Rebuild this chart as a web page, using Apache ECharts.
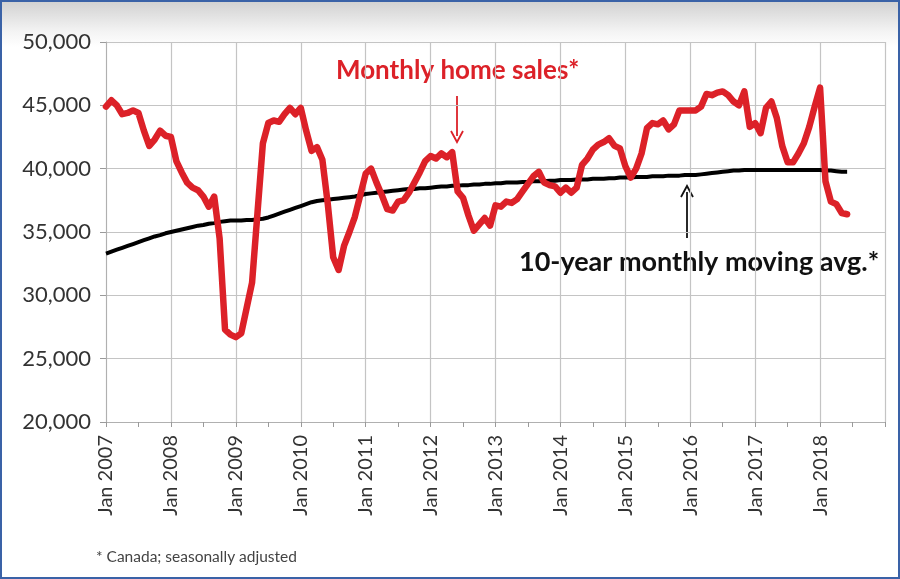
<!DOCTYPE html>
<html>
<head>
<meta charset="utf-8">
<script src="https://cdn.jsdelivr.net/npm/echarts@6/dist/echarts.min.js"></script>
<style>
html,body{margin:0;padding:0;}
#wrap{position:absolute;left:0;top:0;width:896px;height:575px;border:2px solid #3a62a7;
background:linear-gradient(to bottom,#d2d2d2 0px,#f4f4f4 30px,#ffffff 45px,#ffffff 100%);}
#chart{width:896px;height:575px;}
</style>
</head>
<body>
<div id="wrap"><div id="chart"></div></div>
<script>
// Tick labels
const years = [2007,2008,2009,2010,2011,2012,2013,2014,2015,2016,2017,2018,2019];
const monthNames = ['Jan','Feb','Mar','Apr','May','Jun','Jul','Aug','Sep','Oct','Nov','Dec'];
const yTicks = [20000,25000,30000,35000,40000,45000,50000];

// Monthly home sales (Jan 2007 - Jun 2018)
const homeSales = [
  44900,45400,45000,44300,44400,44600,44400,43000,41800,42300,43000,42600,
  42500,40600,39700,38900,38500,38300,37800,37000,37800,34500,27300,26900,
  26700,27000,29000,31000,36500,42000,43600,43800,43700,44300,44800,44300,
  44800,43000,41400,41700,40700,37200,33000,32000,33900,35000,36200,37900,
  39600,40000,38900,37900,36800,36700,37400,37500,38100,38900,39700,40600,
  41000,40800,41200,40900,41300,38200,37700,36300,35100,35600,36100,35500,
  37100,37000,37400,37300,37600,38200,38800,39400,39750,38900,38700,38600,
  38100,38500,38100,38500,40300,40800,41500,41900,42100,42400,41800,41600,
  40200,39300,40000,41200,43200,43600,43500,43800,43100,43500,44600,44600,
  44600,44600,44900,45900,45800,46000,46100,45800,45300,45000,46100,43300,
  43600,42800,44800,45300,44000,41800,40500,40500,41200,42000,43300,44900,
  46400,39000,37400,37200,36500,36400
];

// 10-year monthly moving average (Jan 2007 - Jun 2018)
const movingAvg = [
  33300,33450,33600,33750,33900,34050,34200,34350,34500,34650,34750,34900,
  35000,35100,35200,35300,35400,35500,35550,35650,35700,35800,35850,35900,
  35900,35900,35950,35950,36000,36050,36150,36300,36450,36600,36750,36900,
  37050,37200,37350,37450,37500,37550,37600,37650,37700,37750,37800,37900,
  38000,38050,38100,38150,38200,38250,38300,38350,38400,38400,38450,38450,
  38500,38550,38600,38600,38650,38650,38700,38700,38750,38750,38800,38800,
  38850,38850,38900,38900,38900,38950,38950,39000,39000,39000,39050,39050,
  39100,39100,39100,39150,39150,39150,39200,39200,39200,39250,39250,39300,
  39300,39300,39350,39350,39350,39400,39400,39400,39450,39450,39450,39500,
  39500,39500,39550,39600,39650,39700,39750,39800,39850,39850,39900,39900,
  39900,39900,39900,39900,39900,39900,39900,39900,39900,39900,39900,39900,
  39900,39850,39850,39800,39750,39750
];

const categories = [];
years.forEach(y => monthNames.forEach(m => categories.push(m + ' ' + y)));
categories.length = 145; // through Jan 2019 (right edge)

const chart = echarts.init(document.getElementById('chart'), null, {renderer:'canvas'});
const gridColor = '#c4c4c4';
const FONT = 'Lato, "Open Sans", sans-serif';

chart.setOption({
  animation:false,
  backgroundColor:'transparent',
  grid:{left:104, right:13, top:40, bottom:155, containLabel:false},
  xAxis:{
    type:'category',
    data:categories,
    boundaryGap:false,
    axisLine:{show:true, lineStyle:{color:'#b0b0b0', width:1}},
    axisTick:{show:true, length:5, interval:(i)=> i%6===0, lineStyle:{color:'#9a9a9a'}},
    axisLabel:{
      interval:(i)=> i%12===0 && i<144,
      rotate:90, color:'#333', fontSize:20, fontFamily:FONT, margin:13
    },
    splitLine:{show:true, interval:(i)=> i%12===0, lineStyle:{color:gridColor, width:1.2}}
  },
  yAxis:{
    type:'value', min:yTicks[0], max:yTicks[yTicks.length-1], interval:5000,
    axisLine:{show:true, lineStyle:{color:'#b0b0b0'}},
    axisTick:{show:true, length:6, lineStyle:{color:'#9a9a9a'}},
    axisLabel:{color:'#333', fontSize:22, fontFamily:FONT, margin:15,
      formatter:(v)=> v.toLocaleString('en-US')},
    splitLine:{show:true, lineStyle:{color:gridColor, width:1.2}}
  },
  series:[
    {name:'10-year monthly moving avg.*', type:'line', data:movingAvg, symbol:'none',
     lineStyle:{color:'#000000', width:4}, z:3},
    {name:'Monthly home sales*', type:'line', data:homeSales, symbol:'none',
     lineStyle:{color:'#dc2128', width:6.5, join:'round', cap:'round'}, z:4}
  ],
  graphic:[
    {type:'text', left:334, top:56, style:{text:'Monthly home sales*', fill:'#dc2128',
      font:'bold 26px '+FONT}},
    {type:'line', shape:{x1:455, y1:94, x2:455, y2:134}, style:{stroke:'#dc2128', lineWidth:1.8}},
    {type:'polyline', shape:{points:[[449,129],[455,140],[461,129]]}, style:{stroke:'#dc2128', lineWidth:1.8, fill:null}},
    {type:'text', left:517, top:247, style:{text:'10-year monthly moving avg.*', fill:'#111',
      font:'bold 27px '+FONT}},
    {type:'line', shape:{x1:685, y1:190, x2:685, y2:236}, style:{stroke:'#111', lineWidth:1.8}},
    {type:'polyline', shape:{points:[[679,195],[685,184],[691,195]]}, style:{stroke:'#111', lineWidth:1.8, fill:null}},
    {type:'text', left:94, top:547, style:{text:'* Canada; seasonally adjusted', fill:'#444',
      font:'15.5px '+FONT}}
  ]
});
</script>
</body>
</html>
